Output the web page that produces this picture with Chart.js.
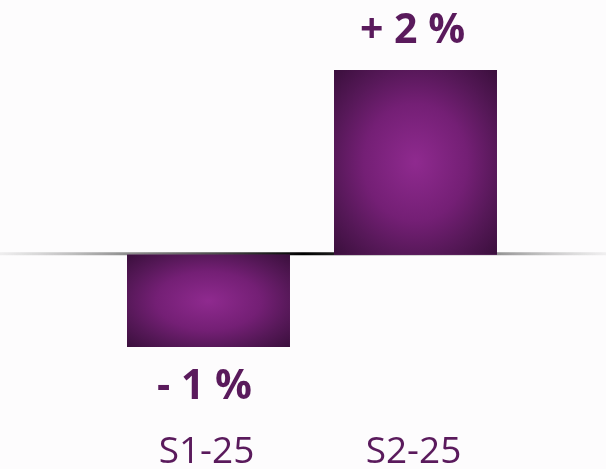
<!DOCTYPE html>
<html>
<head>
<meta charset="utf-8">
<script src="https://cdn.jsdelivr.net/npm/chart.js@4"></script>
<style>
    html, body { margin: 0; padding: 0; background: #fdfcfd; }
    #wrap { width: 606px; height: 469px; }
</style>
</head>
<body>
<div id="wrap"><canvas id="semesterChart" width="606" height="469"></canvas></div>
<script>
// Data
const categories = ['S1-25', 'S2-25'];
const changes = [-1, 2];
const valueLabels = ['- 1 %', '+ 2 %'];

const TEXT_COLOR = '#5a1a5c';
const FONT = "'Open Sans', sans-serif";

// Zero line with a fade at both ends, drawn behind the bars
const zeroLinePlugin = {
    id: 'zeroLine',
    beforeDatasetsDraw(chart) {
        const { ctx, width } = chart;
        const y = chart.scales.y.getPixelForValue(0);
        const grad = ctx.createLinearGradient(0, 0, width, 0);
        grad.addColorStop(0, 'rgba(160,160,160,0.15)');
        grad.addColorStop(0.2, 'rgba(120,120,120,0.8)');
        grad.addColorStop(0.5, 'rgba(0,0,0,1)');
        grad.addColorStop(0.82, 'rgba(120,120,120,0.8)');
        grad.addColorStop(1, 'rgba(170,170,170,0.15)');
        ctx.save();
        ctx.strokeStyle = grad;
        ctx.lineWidth = 3;
        ctx.beginPath();
        ctx.moveTo(0, y - 1);
        ctx.lineTo(width, y - 1);
        ctx.stroke();
        ctx.restore();
    }
};

// Paint each bar with an elliptical radial gradient
const barGlowPlugin = {
    id: 'barGlow',
    afterDatasetsDraw(chart) {
        const { ctx } = chart;
        chart.getDatasetMeta(0).data.forEach(bar => {
            const { x, y, base, width } = bar.getProps(['x', 'y', 'base', 'width'], true);
            const top = Math.min(y, base);
            const h = Math.abs(base - y);
            ctx.save();
            ctx.translate(x, top + h / 2);
            ctx.scale(width / 2, h / 2);
            const g = ctx.createRadialGradient(0, 0, 0, 0, 0, Math.SQRT2);
            g.addColorStop(0, '#8f2a8f');
            g.addColorStop(0.45, '#741f75');
            g.addColorStop(0.72, '#561858');
            g.addColorStop(1, '#3a0f3c');
            ctx.fillStyle = g;
            ctx.fillRect(-1, -1, 2, 2);
            ctx.restore();
        });
    }
};

// Value labels and category labels
const labelsPlugin = {
    id: 'labels',
    afterDraw(chart) {
        const { ctx, chartArea } = chart;
        ctx.save();
        ctx.fillStyle = TEXT_COLOR;
        ctx.textAlign = 'center';
        ctx.textBaseline = 'alphabetic';
        chart.getDatasetMeta(0).data.forEach((bar, i) => {
            const { x, y } = bar.getProps(['x', 'y'], true);
            ctx.font = `700 41px ${FONT}`;
            if (changes[i] >= 0) {
                ctx.fillText(valueLabels[i], x - 3, y - 27);
            } else {
                ctx.fillText(valueLabels[i], x - 4, y + 52);
            }
            ctx.font = `400 37px ${FONT}`;
            ctx.fillText(categories[i], x - 2, chartArea.bottom + 116);
        });
        ctx.restore();
    }
};

new Chart(document.getElementById('semesterChart'), {
    type: 'bar',
    data: {
        labels: categories,
        datasets: [{
            data: changes,
            backgroundColor: '#6a1f6b',
            borderWidth: 0,
            barPercentage: 1,
            categoryPercentage: 0.787
        }]
    },
    options: {
        responsive: false,
        animation: false,
        layout: {
            padding: { left: 105, right: 87, top: 70, bottom: 122 }
        },
        plugins: {
            legend: { display: false },
            tooltip: { enabled: false }
        },
        scales: {
            x: { display: false },
            y: { display: false, min: -1, max: 2 }
        }
    },
    plugins: [zeroLinePlugin, barGlowPlugin, labelsPlugin]
});
</script>
</body>
</html>
